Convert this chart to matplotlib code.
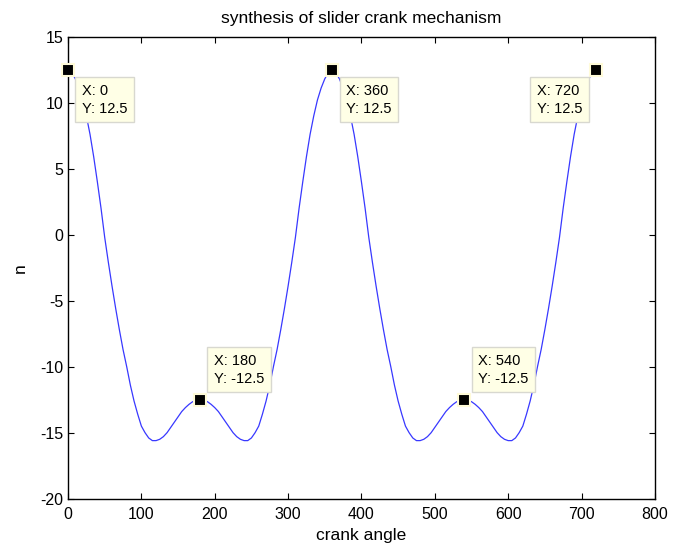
import matplotlib
matplotlib.use("Agg")
import matplotlib.pyplot as plt
import numpy as np

plt.rcParams['font.family'] = ['Liberation Sans', 'DejaVu Sans']
plt.rcParams['axes.unicode_minus'] = False

# crank angle (deg) and n, every 5 degrees
angle = list(range(0, 725, 5))
n = [12.5, 12.3, 11.8, 11.1, 10.2, 9.0, 7.6, 5.9, 4.0, 2.0,
     -0.2, -2.1, -3.9, -5.6, -7.2, -8.7, -10.0, -11.4, -12.6, -13.6,
     -14.5, -15.0, -15.4, -15.6, -15.6, -15.5, -15.3, -15.0, -14.6, -14.2,
     -13.8, -13.4, -13.1, -12.85, -12.65, -12.53, -12.5,
     -12.53, -12.65, -12.85, -13.1, -13.4, -13.8, -14.2, -14.6, -15.0,
     -15.3, -15.5, -15.6, -15.6, -15.4, -15.0, -14.5, -13.6, -12.6, -11.4,
     -10.0, -8.7, -7.2, -5.6, -3.9, -2.1, -0.2, 2.0, 4.0, 5.9,
     7.6, 9.0, 10.2, 11.1, 11.8, 12.3, 12.5,
     12.3, 11.8, 11.1, 10.2, 9.0, 7.6, 5.9, 4.0, 2.0,
     -0.2, -2.1, -3.9, -5.6, -7.2, -8.7, -10.0, -11.4, -12.6, -13.6,
     -14.5, -15.0, -15.4, -15.6, -15.6, -15.5, -15.3, -15.0, -14.6, -14.2,
     -13.8, -13.4, -13.1, -12.85, -12.65, -12.53, -12.5,
     -12.53, -12.65, -12.85, -13.1, -13.4, -13.8, -14.2, -14.6, -15.0,
     -15.3, -15.5, -15.6, -15.6, -15.4, -15.0, -14.5, -13.6, -12.6, -11.4,
     -10.0, -8.7, -7.2, -5.6, -3.9, -2.1, -0.2, 2.0, 4.0, 5.9,
     7.6, 9.0, 10.2, 11.1, 11.8, 12.3, 12.5]

# data tips
tip_x = [0, 180, 360, 540, 720]
tip_y = [12.5, -12.5, 12.5, -12.5, 12.5]
tip_offset = [(14, -14), (14, 14), (14, -14), (14, 14), (-14, -14)]

fig = plt.figure(figsize=(6.85, 5.47), dpi=100)
ax = fig.add_axes([0.0993, 0.0883, 0.8567, 0.8447])

ax.plot(angle, n, color='#3838ff', lw=0.9)

for x, y, off in zip(tip_x, tip_y, tip_offset):
    ax.plot(x, y, marker='s', ms=8.5, mfc='black', mec='#fffbd8', mew=1.5,
            clip_on=False, zorder=5)
    va = 'top' if off[1] < 0 else 'bottom'
    ha = 'left' if off[0] > 0 else 'right'
    ax.annotate(f"X: {x}\nY: {y}", xy=(x, y), xytext=off,
                textcoords='offset pixels', ha=ha, va=va, ma='left',
                fontsize=10.5, linespacing=1.35, zorder=6,
                bbox=dict(boxstyle='square,pad=0.45', fc='#ffffe6',
                          ec='#d8d8d0', lw=1))

ax.set_xlim(0, 800)
ax.set_ylim(-20, 15)
ax.set_xticks(np.arange(0, 801, 100))
ax.set_yticks(np.arange(-20, 16, 5))
ax.tick_params(direction='in', top=True, right=True, labelsize=11.5,
               length=4)
ax.tick_params(axis='x', pad=6)
for s in ax.spines.values():
    s.set_linewidth(1.0)

ax.set_title("synthesis of slider crank mechanism", fontsize=12.5, pad=10)
ax.set_xlabel("crank angle", fontsize=12.5, labelpad=4)
ax.set_ylabel("n", fontsize=12.5, labelpad=9)

fig.savefig("out.png", dpi=100)
